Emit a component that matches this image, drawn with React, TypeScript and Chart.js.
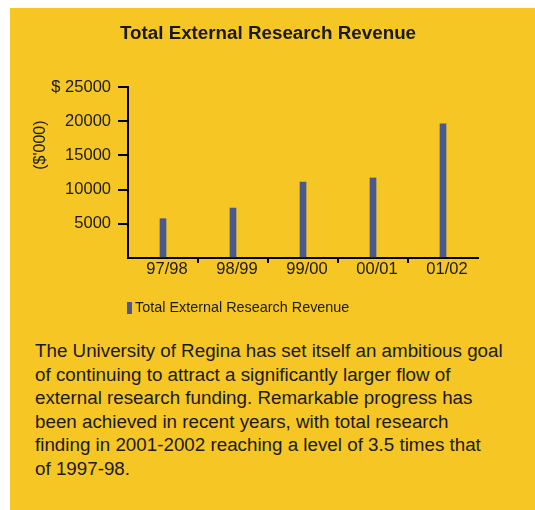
import React, { useEffect, useRef } from "react";
import { Chart, registerables } from "chart.js";

Chart.register(...registerables);

const categories = ["97/98", "98/99", "99/00", "00/01", "01/02"];
const revenue = [5750, 7300, 11100, 11700, 19600];
const seriesLabel = "Total External Research Revenue";
const chartTitle = "Total External Research Revenue";
const yAxisTitle = "($'000)";
const yMax = 25000;
const yStep = 5000;
const paragraphLines = [
  "The University of Regina has set itself an ambitious goal",
  "of continuing to attract a significantly larger flow of",
  "external research funding. Remarkable progress has",
  "been achieved in recent years, with total research",
  "finding in 2001-2002 reaching a level of 3.5 times that",
  "of 1997-98.",
];

const FONT = "'Liberation Sans', Arial, Helvetica, sans-serif";
const INK = "#1a1a1a";
const BAR = "#4a5890";
const YELLOW = "#f5c624";

const extrasPlugin = {
  id: "extras",
  afterDraw(chart: any) {
    const ctx = chart.ctx;
    const area = chart.chartArea;
    const ys = chart.scales.y;
    // chart title
    ctx.save();
    ctx.fillStyle = INK;
    ctx.font = `bold 18.8px ${FONT}`;
    ctx.textAlign = "center";
    ctx.textBaseline = "middle";
    ctx.fillText(chartTitle, chart.width / 2, area.top - 53);
    ctx.restore();
    // y axis title
    ctx.save();
    ctx.fillStyle = INK;
    ctx.font = `16px ${FONT}`;
    ctx.textAlign = "center";
    ctx.textBaseline = "middle";
    ctx.translate(area.left - 87, ys.getPixelForValue(16500));
    ctx.rotate(-Math.PI / 2);
    ctx.fillText(yAxisTitle, 0, 0);
    ctx.restore();
    // legend
    const ds = chart.data.datasets[0];
    ctx.save();
    const bx = area.left - 1;
    const cy = area.bottom + 50;
    ctx.fillStyle = ds.backgroundColor;
    ctx.fillRect(bx, cy - 6, 5, 12);
    ctx.fillStyle = INK;
    ctx.font = `14.4px ${FONT}`;
    ctx.textAlign = "left";
    ctx.textBaseline = "middle";
    ctx.fillText(ds.label, bx + 8, cy);
    ctx.restore();
  },
};

export default function App() {
  const ref = useRef<HTMLCanvasElement>(null);
  useEffect(() => {
    if (!ref.current) return;
    const chart = new Chart(ref.current, {
      type: "bar",
      data: {
        labels: categories,
        datasets: [
          {
            label: seriesLabel,
            data: revenue,
            backgroundColor: BAR,
            barThickness: 6,
            borderWidth: 0,
          },
        ],
      },
      options: {
        responsive: false,
        animation: false,
        layout: { padding: { left: 0, right: 48, top: 79, bottom: 40 } },
        plugins: {
          legend: { display: false },
          tooltip: { enabled: false },
          title: { display: false },
        },
        scales: {
          x: {
            offset: true,
            grid: {
              offset: true,
              drawOnChartArea: false,
              drawTicks: true,
              tickLength: 5,
              lineWidth: 2,
              color: (c: any) => (c.type === "tick" && c.index > 0 ? "#000" : "rgba(0,0,0,0)"),
            },
            border: { display: true, color: "#000", width: 2 },
            ticks: { color: INK, font: { family: FONT, size: 16.5 }, padding: -3, maxRotation: 0, labelOffset: 4 },
            afterFit: (s: any) => {
              s.height = 30;
            },
          },
          y: {
            min: 0,
            max: yMax,
            grid: {
              drawOnChartArea: false,
              drawTicks: true,
              tickLength: 10,
              lineWidth: 2,
              color: (c: any) => (c.tick && c.tick.value === 0 ? "rgba(0,0,0,0)" : "#000"),
            },
            border: { display: true, color: "#000", width: 2 },
            ticks: {
              stepSize: yStep,
              color: INK,
              font: { family: FONT, size: 16.5 },
              padding: 7,
              callback: (v: any) => (v === 0 ? "" : v === yMax ? `$ ${v}` : String(v)),
            },
            afterFit: (s: any) => {
              s.width = 118;
            },
          },
        },
      },
      plugins: [extrasPlugin],
    });
    return () => chart.destroy();
  }, []);

  return (
    <div
      style={{
        position: "absolute",
        left: 10,
        top: 8,
        width: 525,
        height: 502,
        background: YELLOW,
      }}
    >
      <canvas ref={ref} width={516} height={320} style={{ position: "absolute", left: 0, top: 0 }} />
      <div
        style={{
          position: "absolute",
          left: 25,
          top: 331,
          fontFamily: FONT,
          fontSize: 18.8,
          lineHeight: "23.5px",
          color: INK,
          whiteSpace: "nowrap",
        }}
      >
        {paragraphLines.map((l, i) => (
          <div key={i}>{l}</div>
        ))}
      </div>
    </div>
  );
}
